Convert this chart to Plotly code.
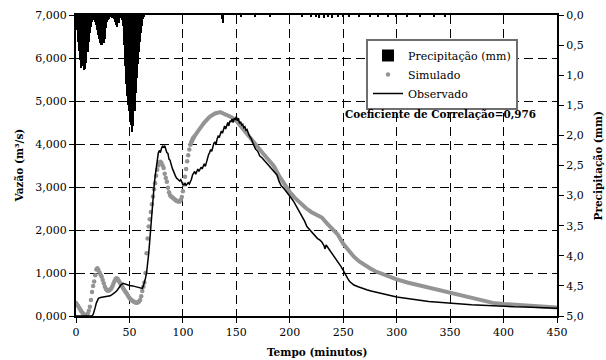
import plotly.graph_objects as go

# ---------------- data ----------------
# Precipitation (mm) per minute
precip_t = list(range(0, 65)) + [137, 138, 155, 168, 182, 212, 220, 225, 228, 232, 236, 240,
                                  245, 250, 256, 265, 275, 283, 292, 300, 310, 322, 335, 345]
precip_mm = [0.05, 0.25, 0.45, 0.6, 0.75, 0.88, 0.8, 0.85, 0.92, 0.9, 0.8, 0.62, 0.45, 0.3, 0.2,
             0.12, 0.08, 0.07, 0.12, 0.17, 0.25, 0.33, 0.4, 0.46, 0.5, 0.5, 0.46, 0.4, 0.22, 0.12,
             0.08, 0.06, 0.04, 0.04, 0.05, 0.04, 0.06, 0.12, 0.16, 0.2, 0.14, 0.05, 0.04, 0.08,
             0.18, 0.5, 0.85, 1.15, 1.35, 1.5, 1.6, 1.68, 1.82, 1.94, 1.85, 1.6, 1.3, 1.05, 0.82,
             0.62, 0.45, 0.3, 0.18, 0.06, 0.02,
             0.06, 0.13, 0.02, 0.02, 0.02, 0.02, 0.03, 0.04, 0.05, 0.05, 0.04, 0.05,
             0.03, 0.04, 0.03, 0.02, 0.03, 0.02, 0.03, 0.02, 0.02, 0.03, 0.02, 0.02]

# Simulated discharge (m3/s)
sim_t = list(range(0, 111)) + [115, 120, 125, 130, 135, 140, 145, 150, 155, 160, 165, 170, 175,
                               180, 185, 190, 195, 200, 205, 210, 215, 220, 225, 230, 235, 240,
                               245, 250, 255, 260, 265, 270, 275, 280, 285, 290, 295, 300, 310,
                               320, 330, 340, 350, 360, 370, 380, 390, 400, 410, 420, 430, 440, 450]
sim_q = [300, 270, 230, 190, 150, 110, 75, 45, 25, 15, 25, 60, 120, 215, 370, 560, 700, 800, 950,
         1080, 1110, 1070, 1010, 960, 915, 840, 760, 680, 630, 600, 590, 595, 615, 640, 690, 750,
         810, 860, 880, 860, 820, 780, 740, 700, 650, 610, 570, 540, 500, 460, 420, 390, 370, 350,
         335, 320, 312, 310, 320, 340, 370, 460, 580, 680, 780, 1000, 1460, 1800, 2080, 2250, 2420,
         2600, 2780, 2950, 3090, 3260, 3400, 3500, 3570, 3590, 3560, 3500, 3440, 3310, 3210, 3120,
         2980, 2880, 2810, 2780, 2760, 2740, 2720, 2700, 2680, 2670, 2660, 2660, 2700, 2770, 2900,
         3060, 3240, 3420, 3600, 3740, 3870, 3980, 4050, 4110, 4150,
         4330, 4500, 4630, 4710, 4740, 4690, 4630, 4540, 4380, 4240, 4080, 3930, 3780,
         3630, 3490, 3260, 3060, 2880, 2740, 2620, 2510, 2420, 2360, 2290, 2150, 2030,
         1890, 1680, 1530, 1380, 1270, 1180, 1110, 1040, 990, 940, 890, 850, 780,
         720, 670, 610, 540, 470, 410, 350, 305, 280, 265, 245, 230, 215, 200]

# Observed discharge (m3/s)
obs_t = [0, 5, 10, 15, 16, 17, 18, 19, 20, 21, 23, 26, 29, 32, 35, 38, 40, 42, 44, 46, 48, 50, 53,
         56, 59, 61, 62, 63, 64, 65, 66, 67, 68, 69, 70, 71, 72, 73, 74, 75, 76, 77, 78, 79, 80,
         81, 82, 83, 84, 85, 86, 87, 88, 89, 90, 91, 92, 93, 94, 95, 96, 97, 98, 99, 100, 101,
         102, 103, 104, 105, 106, 107, 108, 109, 110, 111, 112, 113, 114, 115, 116, 117, 118, 119,
         120, 121, 122, 123, 124, 125, 126, 127, 128, 129, 130, 131, 132, 133, 134, 135, 136, 137,
         138, 139, 140, 141, 142, 143, 144, 145, 146, 147, 148, 149, 150, 151, 152, 153, 154, 155,
         156, 157, 158, 159, 160, 162, 164, 166, 168, 170, 172, 174, 176, 178, 180, 182, 184, 186,
         188, 190, 192, 194, 196, 198, 200, 202, 204, 206, 208, 210, 212, 214, 216, 218, 220, 222,
         224, 226, 228, 230, 232, 233, 234, 236, 238, 240, 242, 244, 246, 248, 250, 252, 254, 256,
         258, 260, 264, 268, 272, 276, 280, 285, 290, 295, 300, 310, 320, 330, 340, 350, 360, 370,
         380, 390, 400, 410, 420, 430, 440, 450]
obs_q = [0, 0, 0, 5, 30, 100, 200, 300, 370, 410, 430, 440, 450, 470, 520, 580, 650, 720, 760,
         740, 730, 710, 700, 680, 650, 630, 640, 700, 780, 880, 1000, 1200, 1450, 1750, 2100, 2450,
         2750, 3000, 3240, 3450, 3620, 3790, 3850, 3800, 3900, 3950, 3930, 3960, 3880, 3800, 3780,
         3650, 3620, 3500, 3440, 3380, 3300, 3260, 3210, 3190, 3170, 3140, 3170, 3100, 3060, 3050,
         3080, 3040, 3060, 3100, 3070, 3120, 3180, 3280, 3320, 3360, 3300, 3380, 3420, 3360, 3400,
         3460, 3420, 3500, 3540, 3480, 3580, 3680, 3750, 3800, 3870, 3830, 3950, 4020, 4040, 3980,
         4120, 4180, 4150, 4240, 4300, 4250, 4380, 4420, 4350, 4460, 4500, 4420, 4540, 4510, 4580,
         4500, 4600, 4560, 4640, 4540, 4600, 4480, 4520, 4440, 4460, 4380, 4400, 4320, 4340, 4200,
         4120, 3990, 3880, 3830, 3720, 3680, 3620, 3560, 3510, 3440, 3380, 3330, 3280, 3130, 3030,
         2980, 2920, 2860, 2780, 2720, 2650, 2560, 2450, 2380, 2300, 2200, 2080, 2020, 1960, 1900,
         1860, 1800, 1770, 1720, 1640, 1560, 1650, 1580, 1520, 1450, 1380, 1300, 1240, 1150, 1060,
         950, 880, 800, 750, 720, 680, 640, 610, 580, 560, 530, 500, 470, 440, 400, 370, 340, 320,
         290, 270, 260, 250, 235, 225, 215, 210, 200, 190, 180]

# Axis ticks
x_ticks = [0, 50, 100, 150, 200, 250, 300, 350, 400, 450]
y_ticks = [0, 1000, 2000, 3000, 4000, 5000, 6000, 7000]
y_ticktext = ["0,000", "1,000", "2,000", "3,000", "4,000", "5,000", "6,000", "7,000"]
y2_ticks = [0, 0.5, 1.0, 1.5, 2.0, 2.5, 3.0, 3.5, 4.0, 4.5, 5.0]
y2_ticktext = ["0,0", "0,5", "1,0", "1,5", "2,0", "2,5", "3,0", "3,5", "4,0", "4,5", "5,0"]

FONT = "DejaVu Serif"
GREY = "#949494"

# ---------------- figure ----------------
fig = go.Figure()

fig.add_trace(go.Bar(
    x=precip_t, y=precip_mm, yaxis="y2", width=1.4,
    marker=dict(color="black", line=dict(width=0)),
    name="Precipitação (mm)"))

mk_t = [t for t in sim_t if t <= 110]
mk_q = [q for t, q in zip(sim_t, sim_q) if t <= 110]
ln_t = [t for t in sim_t if t >= 107]
ln_q = [q for t, q in zip(sim_t, sim_q) if t >= 107]

fig.add_trace(go.Scatter(
    x=ln_t, y=ln_q, mode="lines", line=dict(color=GREY, width=4),
    showlegend=False, hoverinfo="skip"))
fig.add_trace(go.Scatter(
    x=mk_t, y=mk_q, mode="markers",
    marker=dict(color=GREY, size=4.5, line=dict(width=0)),
    name="Simulado"))
fig.add_trace(go.Scatter(
    x=obs_t, y=obs_q, mode="lines", line=dict(color="black", width=1.5),
    name="Observado"))

fig.update_layout(
    width=606, height=360,
    margin=dict(l=76, r=49, t=15, b=44),
    paper_bgcolor="white", plot_bgcolor="white",
    font=dict(family=FONT, size=11, color="black"),
    showlegend=True,
    legend=dict(x=(366 - 76) / 481, y=(316 - 39) / 301, xanchor="left", yanchor="top",
                bgcolor="white", bordercolor="#6e6e6e", borderwidth=2,
                font=dict(family=FONT, size=11), tracegroupgap=0,
                itemwidth=30),
    xaxis=dict(range=[0, 450], tickvals=x_ticks, showline=True, linewidth=2,
               linecolor="black", mirror=True, ticks="outside", ticklen=5,
               tickcolor="black", showgrid=True, gridcolor="black", gridwidth=1,
               griddash="9px,5px", zeroline=False, automargin=False,
               tickfont=dict(family=FONT, size=11)),
    yaxis=dict(range=[0, 7000], tickvals=y_ticks, ticktext=y_ticktext, showline=True,
               linewidth=2, linecolor="black", ticks="outside", ticklen=5,
               tickcolor="black", showgrid=True, gridcolor="black", gridwidth=1,
               griddash="9px,5px", zeroline=False, automargin=False,
               tickfont=dict(family=FONT, size=11)),
    yaxis2=dict(range=[5, 0], overlaying="y", side="right", tickvals=y2_ticks,
                ticktext=y2_ticktext, showline=True, linewidth=2, linecolor="black",
                ticks="outside", ticklen=5, tickcolor="black", showgrid=False,
                zeroline=False, automargin=False, tickfont=dict(family=FONT, size=11)),
    bargap=0,
)

fig.add_annotation(text="<b>Coeficiente de Correlação=0,976</b>", xref="paper", yref="paper",
                   x=(343 - 76) / 481, y=(316 - 114) / 301, xanchor="left", yanchor="middle",
                   showarrow=False, font=dict(family=FONT, size=10.4))
fig.add_annotation(text="<b>Vazão (m³/s)</b>", xref="paper", yref="paper",
                   x=(18 - 76) / 481, y=0.5, xanchor="center", yanchor="middle",
                   textangle=-90, showarrow=False, font=dict(family=FONT, size=10.5))
fig.add_annotation(text="<b>Tempo (minutos)</b>", xref="paper", yref="paper",
                   x=0.5, y=(316 - 352) / 301, xanchor="center", yanchor="middle",
                   showarrow=False, font=dict(family=FONT, size=10.5))
fig.add_annotation(text="<b>Precipitação (mm)</b>", xref="paper", yref="paper",
                   x=(597 - 76) / 481, y=0.5, xanchor="center", yanchor="middle",
                   textangle=-90, showarrow=False, font=dict(family=FONT, size=10.5))

fig.write_html("out.html")
